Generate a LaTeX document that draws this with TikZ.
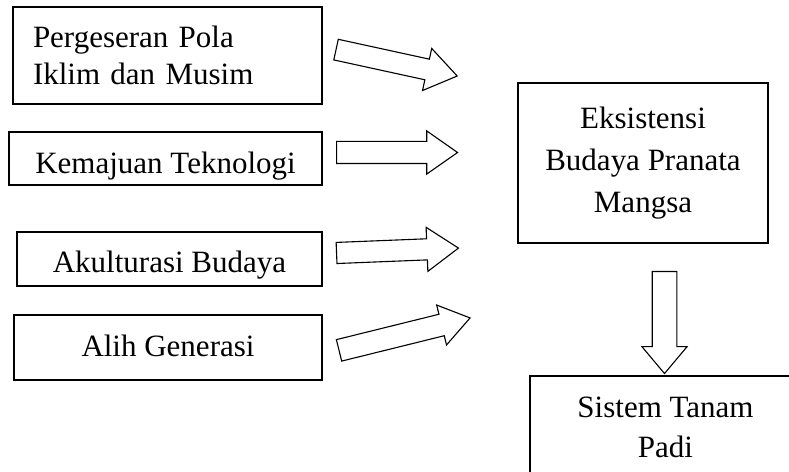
\documentclass[tikz,border=0pt]{standalone}
\usepackage{fontspec}
\setmainfont{Liberation Serif}
\usepackage{tikz}
\usetikzlibrary{shapes.arrows}

\newcommand{\upx}{0.254mm}

\tikzset{
    kotak/.style={draw, rectangle, line width=1.1pt, inner sep=0pt},
    panah/.style n args={3}{draw, single arrow, line width=0.8pt,
        anchor=tail, single arrow head indent=0pt, single arrow tip angle=70,
        inner xsep=0pt, inner ysep=#3/2*\upx, minimum height=#1*\upx,
        single arrow head extend=(#2-#3)/2*\upx},
}

\begin{document}
\begin{tikzpicture}[x=0.254mm, y=-0.254mm, font=\fontsize{22.4}{27}\selectfont]
    \path[use as bounding box, clip] (0,0) rectangle (789,472);

    \node[kotak, align=left, text width=269*\upx, inner xsep=20*\upx, minimum height=97*\upx] (pola) at (167.5,55.5) {Pergeseran Pola\\Iklim dan Musim};
    \node[kotak, minimum width=313*\upx, minimum height=53*\upx, text height=21pt, text depth=0pt] (teknologi) at (165.5,158.5) {Kemajuan Teknologi};
    \node[kotak, minimum width=305*\upx, minimum height=54*\upx, text height=18.8pt, text depth=0pt] (akulturasi) at (169.5,259) {Akulturasi Budaya};
    \node[kotak, minimum width=308*\upx, minimum height=65*\upx, text height=12.3pt, text depth=0pt] (generasi) at (168,347.5) {Alih Generasi};

    \node[kotak, align=center, minimum width=250*\upx, minimum height=160*\upx, font=\fontsize{22.4}{30.4}\selectfont] (eksistensi) at (643,163) {Eksistensi\\Budaya Pranata\\Mangsa};
    \node[kotak, align=center, minimum width=271*\upx, minimum height=102*\upx, font=\fontsize{22.4}{29}\selectfont] (tanam) at (665.5,427) {Sistem Tanam\\Padi};

    \node[panah={124}{42}{20}, rotate=-12.3] (p1) at (335.5,49.5) {};
    \node[panah={121}{42}{21}] (p2) at (336,152.5) {};
    \node[panah={122}{43}{20}, rotate=2.3] (p3) at (336,253) {};
    \node[panah={135}{40}{21}, rotate=13.9] (p4) at (338.5,350.5) {};
    \node[panah={102}{44}{23.5}, rotate=-90, single arrow tip angle=80] (p5) at (664.5,271) {};
\end{tikzpicture}
\end{document}
